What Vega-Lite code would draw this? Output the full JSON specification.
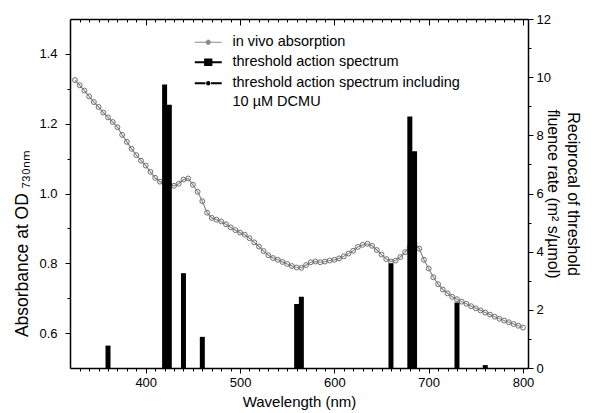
{
  "$schema": "https://vega.github.io/schema/vega-lite/v6.json",
  "autosize": "none",
  "width": 458,
  "height": 349,
  "padding": {"left": 70, "top": 19, "right": 77, "bottom": 45},
  "background": "#ffffff",
  "datasets": {
    "absorb": [
      {"wl": 325, "abs": 1.325}, {"wl": 330, "abs": 1.31}, {"wl": 335, "abs": 1.295}, {"wl": 340, "abs": 1.278},
      {"wl": 345, "abs": 1.262}, {"wl": 350, "abs": 1.248}, {"wl": 355, "abs": 1.232}, {"wl": 360, "abs": 1.218},
      {"wl": 365, "abs": 1.205}, {"wl": 370, "abs": 1.19}, {"wl": 375, "abs": 1.168}, {"wl": 380, "abs": 1.148},
      {"wl": 385, "abs": 1.128}, {"wl": 390, "abs": 1.11}, {"wl": 395, "abs": 1.094}, {"wl": 400, "abs": 1.08},
      {"wl": 405, "abs": 1.062}, {"wl": 410, "abs": 1.045}, {"wl": 415, "abs": 1.034}, {"wl": 420, "abs": 1.03},
      {"wl": 425, "abs": 1.025}, {"wl": 430, "abs": 1.022}, {"wl": 435, "abs": 1.028}, {"wl": 440, "abs": 1.04},
      {"wl": 445, "abs": 1.043}, {"wl": 450, "abs": 1.025}, {"wl": 455, "abs": 1.005}, {"wl": 460, "abs": 0.978},
      {"wl": 465, "abs": 0.945}, {"wl": 470, "abs": 0.93}, {"wl": 475, "abs": 0.925}, {"wl": 480, "abs": 0.92},
      {"wl": 485, "abs": 0.912}, {"wl": 490, "abs": 0.903}, {"wl": 495, "abs": 0.895}, {"wl": 500, "abs": 0.888},
      {"wl": 505, "abs": 0.882}, {"wl": 510, "abs": 0.872}, {"wl": 515, "abs": 0.86}, {"wl": 520, "abs": 0.848},
      {"wl": 525, "abs": 0.835}, {"wl": 530, "abs": 0.823}, {"wl": 535, "abs": 0.815}, {"wl": 540, "abs": 0.81},
      {"wl": 545, "abs": 0.804}, {"wl": 550, "abs": 0.798}, {"wl": 555, "abs": 0.792}, {"wl": 560, "abs": 0.788},
      {"wl": 565, "abs": 0.787}, {"wl": 570, "abs": 0.795}, {"wl": 575, "abs": 0.803}, {"wl": 580, "abs": 0.805},
      {"wl": 585, "abs": 0.803}, {"wl": 590, "abs": 0.805}, {"wl": 595, "abs": 0.808}, {"wl": 600, "abs": 0.81},
      {"wl": 605, "abs": 0.814}, {"wl": 610, "abs": 0.82}, {"wl": 615, "abs": 0.828}, {"wl": 620, "abs": 0.836},
      {"wl": 625, "abs": 0.847}, {"wl": 630, "abs": 0.853}, {"wl": 635, "abs": 0.856}, {"wl": 640, "abs": 0.85},
      {"wl": 645, "abs": 0.838}, {"wl": 650, "abs": 0.825}, {"wl": 655, "abs": 0.812}, {"wl": 660, "abs": 0.805},
      {"wl": 665, "abs": 0.808}, {"wl": 670, "abs": 0.818}, {"wl": 675, "abs": 0.832}, {"wl": 680, "abs": 0.848},
      {"wl": 685, "abs": 0.857}, {"wl": 690, "abs": 0.842}, {"wl": 695, "abs": 0.81}, {"wl": 700, "abs": 0.785},
      {"wl": 705, "abs": 0.76}, {"wl": 710, "abs": 0.74}, {"wl": 715, "abs": 0.725}, {"wl": 720, "abs": 0.714},
      {"wl": 725, "abs": 0.704}, {"wl": 730, "abs": 0.697}, {"wl": 735, "abs": 0.69}, {"wl": 740, "abs": 0.684},
      {"wl": 745, "abs": 0.677}, {"wl": 750, "abs": 0.671}, {"wl": 755, "abs": 0.665}, {"wl": 760, "abs": 0.659},
      {"wl": 765, "abs": 0.653}, {"wl": 770, "abs": 0.647}, {"wl": 775, "abs": 0.641}, {"wl": 780, "abs": 0.636},
      {"wl": 785, "abs": 0.631}, {"wl": 790, "abs": 0.626}, {"wl": 795, "abs": 0.621}, {"wl": 800, "abs": 0.616}
    ],
    "bars": [
      {"wl": 360, "val": 0.77, "series": "threshold action spectrum"},
      {"wl": 420, "val": 9.75, "series": "threshold action spectrum"},
      {"wl": 425, "val": 9.05, "series": "threshold action spectrum including 10 µM DCMU"},
      {"wl": 440, "val": 3.26, "series": "threshold action spectrum"},
      {"wl": 460, "val": 1.07, "series": "threshold action spectrum"},
      {"wl": 560, "val": 2.2, "series": "threshold action spectrum"},
      {"wl": 565, "val": 2.45, "series": "threshold action spectrum including 10 µM DCMU"},
      {"wl": 660, "val": 3.6, "series": "threshold action spectrum"},
      {"wl": 680, "val": 8.65, "series": "threshold action spectrum"},
      {"wl": 685, "val": 7.45, "series": "threshold action spectrum including 10 µM DCMU"},
      {"wl": 730, "val": 2.25, "series": "threshold action spectrum"},
      {"wl": 760, "val": 0.1, "series": "threshold action spectrum"}
    ]
  },
  "layer": [
    {
      "data": {"name": "absorb"},
      "mark": {"type": "line", "strokeWidth": 1.2, "point": {"filled": false, "size": 24, "strokeWidth": 1, "stroke": "#6e6e6e"}},
      "encoding": {
        "x": {
          "field": "wl", "type": "quantitative",
          "scale": {"domain": [325, 800], "nice": false, "zero": false},
          "axis": {
            "orient": "top", "labels": false, "title": null,
            "values": [330,340,350,360,370,380,390,400,410,420,430,440,450,460,470,480,490,500,510,520,530,540,550,560,570,580,590,600,610,620,630,640,650,660,670,680,690,700,710,720,730,740,750,760,770,780,790,800],
            "tickSize": {"condition": {"test": "datum.value % 100 === 0", "value": -6}, "value": -3}
          }
        },
        "y": {
          "field": "abs", "type": "quantitative",
          "scale": {"domain": [0.5, 1.5], "nice": false, "zero": false},
          "axis": {
            "orient": "left",
            "title": "Absorbance at OD ₇₃₀ₙₘ",
            "titleFontSize": 17.5,
            "titleY": 224,
            "values": [0.6, 0.7, 0.8, 0.9, 1.0, 1.1, 1.2, 1.3, 1.4],
            "format": ".1f",
            "labelExpr": "round(datum.value * 10) % 2 === 0 ? datum.label : ''",
            "tickSize": {"condition": {"test": "round(datum.value * 10) % 2 === 0", "value": 5}, "value": 3},
            "labelPadding": 8, "labelOverlap": false,
            "titlePadding": 7
          }
        },
        "color": {"datum": "in vivo absorption", "type": "nominal"}
      }
    },
    {
      "data": {"name": "bars"},
      "mark": {"type": "bar", "width": 5},
      "encoding": {
        "x": {
          "field": "wl", "type": "quantitative",
          "scale": {"domain": [325, 800], "nice": false, "zero": false},
          "axis": {
            "orient": "bottom", "title": "Wavelength (nm)",
            "values": [330,340,350,360,370,380,390,400,410,420,430,440,450,460,470,480,490,500,510,520,530,540,550,560,570,580,590,600,610,620,630,640,650,660,670,680,690,700,710,720,730,740,750,760,770,780,790,800],
            "labelExpr": "datum.value % 100 === 0 ? datum.label : ''",
            "tickSize": {"condition": {"test": "datum.value % 100 === 0", "value": 5}, "value": 3},
            "labelFlush": false, "labelOverlap": false, "labelPadding": 3,
            "titlePadding": 5, "titleFontSize": 15
          }
        },
        "y": {
          "field": "val", "type": "quantitative",
          "scale": {"domain": [0, 12], "nice": false},
          "axis": {
            "orient": "right",
            "title": ["Reciprocal of threshold", "fluence rate (m² s/µmol)"],
            "values": [0,1,2,3,4,5,6,7,8,9,10,11,12],
            "labelExpr": "datum.value % 2 === 0 ? datum.label : ''",
            "tickSize": {"condition": {"test": "datum.value % 2 === 0", "value": 5}, "value": 3},
            "labelPadding": 3, "labelOverlap": false,
            "titlePadding": -6, "titleLineHeight": 20
          }
        },
        "color": {
          "field": "series", "type": "nominal",
          "scale": {
            "domain": ["in vivo absorption", "threshold action spectrum", "threshold action spectrum including 10 µM DCMU"],
            "range": ["#8a8a8a", "#000000", "#000000"]
          },
          "legend": {
            "orient": "none", "legendX": 131, "legendY": 16,
            "title": null, "padding": 0,
            "symbolSize": 121, "symbolStrokeWidth": 1,
            "labelFontSize": 14.5, "labelColor": "#000", "labelLimit": 400,
            "labelOffset": 17, "rowPadding": 5,
            "labelExpr": "indexof(datum.label, 'DCMU') >= 0 ? ['threshold action spectrum including', '10 µM DCMU'] : datum.label",
            "encode": {
              "symbols": {
                "update": {
                  "shape": {"signal": "datum.value === 'in vivo absorption' ? 'M-2.45,0H-0.42M0.42,0H2.45M0.4,0A0.4,0.4,0,1,1,-0.4,0A0.4,0.4,0,1,1,0.4,0' : (datum.value === 'threshold action spectrum' ? 'M-2.45,0H2.45M-0.55,-0.5H0.55V0.5H-0.55Z' : 'M-2.45,0H-0.5M0.5,0H2.45M0.2,0A0.2,0.2,0,1,1,-0.2,0A0.2,0.2,0,1,1,0.2,0')"},
                  "fill": {"signal": "datum.value === 'threshold action spectrum' ? '#000' : '#fff'"},
                  "stroke": {"signal": "datum.value === 'in vivo absorption' ? '#888' : '#000'"},
                  "strokeWidth": {"signal": "datum.value === 'in vivo absorption' ? 1 : 2.2"},
                  "opacity": {"value": 1}
                }
              },
              "labels": {
                "update": {
                  "lineHeight": {"value": 19}
                }
              }
            }
          }
        }
      }
    }
  ],
  "resolve": {"scale": {"y": "independent"}, "axis": {"x": "independent", "y": "independent"}},
  "config": {
    "view": {"stroke": null},
    "font": "Liberation Sans",
    "axis": {
      "grid": false,
      "labelFont": "Liberation Sans", "labelFontSize": 13, "labelColor": "#000",
      "titleFont": "Liberation Sans", "titleFontSize": 16, "titleFontWeight": "normal", "titleColor": "#000",
      "domainColor": "#000", "domainWidth": 1.5, "tickColor": "#000", "tickWidth": 1
    },
    "legend": {"labelFont": "Liberation Sans"}
  }
}
